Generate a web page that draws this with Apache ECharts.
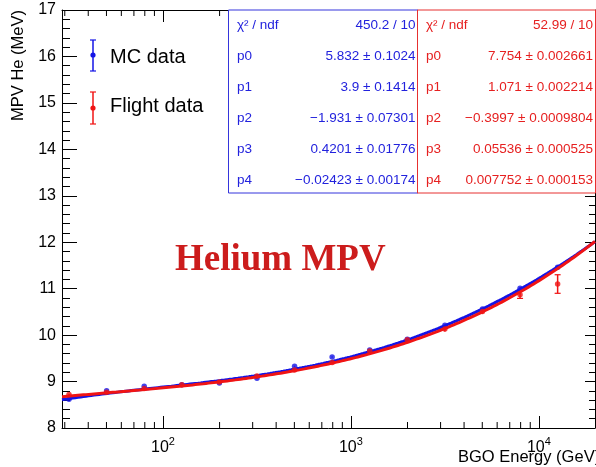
<!DOCTYPE html>
<html><head><meta charset="utf-8">
<script src="https://cdn.jsdelivr.net/npm/echarts@6/dist/echarts.min.js"></script>
<style>html,body{margin:0;padding:0;background:#fff}#c{width:596px;height:467px}</style>
</head><body><div id="c"></div>
<script>
// ---- data ----
const energies = [31.6, 50.1, 79.4, 125.9, 199.5, 316.2, 501.2, 794.3, 1258.9, 1995.3, 3162.3, 5011.9, 7943.3, 12589.3];
const mcValues = [8.62, 8.80, 8.90, 8.93, 8.97, 9.07, 9.33, 9.53, 9.68, 9.91, 10.21, 10.56, 11.01, 11.46];
const mcErrors = [0.01, 0.01, 0.01, 0.01, 0.01, 0.01, 0.01, 0.01, 0.01, 0.01, 0.01, 0.01, 0.02, 0.02];
const flightValues = [8.72, 8.77, 8.85, 8.93, 8.99, 9.12, 9.25, 9.41, 9.66, 9.90, 10.13, 10.51, 10.87, 11.10];
const flightErrors = [0.01, 0.01, 0.01, 0.01, 0.01, 0.01, 0.01, 0.01, 0.02, 0.02, 0.05, 0.05, 0.08, 0.20];
const mcFitParams = [5.832, 3.9, -1.931, 0.4201, -0.02423];
const flightFitParams = [7.754, 1.071, -0.3997, 0.05536, 0.007752];
const mcStats = [['χ² / ndf', '450.2 / 10'], ['p0', '5.832 ± 0.1024'], ['p1', '3.9 ± 0.1414'], ['p2', '−1.931 ± 0.07301'], ['p3', '0.4201 ± 0.01776'], ['p4', '−0.02423 ± 0.00174']];
const flightStats = [['χ² / ndf', '52.99 / 10'], ['p0', '7.754 ± 0.002661'], ['p1', '1.071 ± 0.002214'], ['p2', '−0.3997 ± 0.0009804'], ['p3', '0.05536 ± 0.000525'], ['p4', '0.007752 ± 0.000153']];
const xMinorTicks = [30, 40, 50, 60, 70, 80, 90, 200, 300, 400, 500, 600, 700, 800, 900, 2000, 3000, 4000, 5000, 6000, 7000, 8000, 9000];
const xRange = [29, 19900];
const yRange = [8, 17];
const legendLabels = ['MC data', 'Flight data'];
const titleText = 'Helium MPV';
const xTitle = 'BGO Energy (GeV)';
const yTitle = 'MPV He (MeV)';

// ---- style ----
const BLUE = '#1414e6', RED = '#f01414';
const BLUE_T = '#2222dd', RED_T = '#e62020';

// fit function: polynomial in log10(E), sampled along the axis
function fitCurve(p) {
  const out = [];
  const a = Math.log10(xRange[0]), b = Math.log10(xRange[1]);
  for (let i = 0; i <= 200; i++) {
    const l = a + (b - a) * i / 200;
    let y = 0;
    for (let k = 0; k < p.length; k++) y += p[k] * Math.pow(l, k);
    out.push([Math.pow(10, l), y]);
  }
  return out;
}

function errorSeries(vals, errs, color) {
  return {
    type: 'custom', xAxisIndex: 0, yAxisIndex: 0, z: 3,
    data: energies.map((e, i) => [e, vals[i] - errs[i], vals[i] + errs[i]]),
    renderItem(params, api) {
      const lo = api.coord([api.value(0), api.value(1)]);
      const hi = api.coord([api.value(0), api.value(2)]);
      const ch = [{ type: 'line', shape: { x1: lo[0], y1: lo[1], x2: hi[0], y2: hi[1] }, style: { stroke: color, lineWidth: 1.5 } }];
      if (lo[1] - hi[1] > 7) {
        ch.push({ type: 'line', shape: { x1: lo[0] - 3, y1: lo[1], x2: lo[0] + 3, y2: lo[1] }, style: { stroke: color, lineWidth: 1.2 } });
        ch.push({ type: 'line', shape: { x1: hi[0] - 3, y1: hi[1], x2: hi[0] + 3, y2: hi[1] }, style: { stroke: color, lineWidth: 1.2 } });
      }
      return { type: 'group', children: ch };
    }
  };
}

const minorTickSeries = {
  type: 'custom', xAxisIndex: 0, yAxisIndex: 0, z: 5, silent: true,
  data: xMinorTicks.map(v => [v]),
  renderItem(params, api) {
    const b = api.coord([api.value(0), yRange[0]]);
    const t = api.coord([api.value(0), yRange[1]]);
    return { type: 'group', children: [
      { type: 'line', shape: { x1: b[0], y1: b[1], x2: b[0], y2: b[1] - 6 }, style: { stroke: '#000', lineWidth: 1 } },
      { type: 'line', shape: { x1: t[0], y1: t[1], x2: t[0], y2: t[1] + 6 }, style: { stroke: '#000', lineWidth: 1 } }
    ] };
  }
};

function statsBox(rows, x, w, color, tcolor) {
  const els = [{ type: 'rect', shape: { x: x, y: 10, width: w, height: 183 }, style: { fill: '#fff', stroke: color, lineWidth: 1 }, z: 10 }];
  const ys = [25, 56, 87, 118, 149, 180];
  rows.forEach((r, i) => {
    els.push({ type: 'text', x: x + 8.5, y: ys[i], z: 11, style: { text: r[0], fill: tcolor, font: '13.5px "Liberation Sans", Arial, sans-serif', align: 'left', verticalAlign: 'middle' } });
    els.push({ type: 'text', x: x + w - 2.5, y: ys[i], z: 11, style: { text: r[1], fill: tcolor, font: '13.5px "Liberation Sans", Arial, sans-serif', align: 'right', verticalAlign: 'middle' } });
  });
  return els;
}

function legendItem(y, color, label, y1, y2, ty) {
  return [
    { type: 'line', shape: { x1: 93, y1: y1, x2: 93, y2: y2 }, style: { stroke: color, lineWidth: 1.5 }, z: 10 },
    { type: 'line', shape: { x1: 90, y1: y1, x2: 96, y2: y1 }, style: { stroke: color, lineWidth: 1.2 }, z: 10 },
    { type: 'line', shape: { x1: 90, y1: y2, x2: 96, y2: y2 }, style: { stroke: color, lineWidth: 1.2 }, z: 10 },
    { type: 'circle', shape: { cx: 93, cy: y, r: 2.6 }, style: { fill: color }, z: 10 },
    { type: 'text', x: 110, y: ty, z: 10, style: { text: label, fill: '#000', font: '20px "Liberation Sans", Arial, sans-serif', align: 'left', verticalAlign: 'middle' } }
  ];
}

const axisFont = '"Liberation Sans", Arial, sans-serif';
const chart = echarts.init(document.getElementById('c'), null, { renderer: 'canvas' });
chart.setOption({
  animation: false,
  backgroundColor: '#fff',
  grid: { left: 62, right: 1, top: 10, bottom: 39, containLabel: false },
  xAxis: [
    { type: 'log', logBase: 10, min: xRange[0], max: xRange[1], position: 'bottom',
      axisLine: { lineStyle: { color: '#000', width: 1 } },
      axisTick: { inside: true, length: 12, lineStyle: { color: '#000' } },
      splitLine: { show: false },
      axisLabel: { showMinLabel: false, showMaxLabel: false, margin: 8, color: '#000',
        formatter: v => { const l = Math.log10(v); return Math.abs(l - Math.round(l)) < 1e-6 ? '{b|10}{s|' + Math.round(l) + '}' : ''; },
        rich: { b: { fontSize: 16, fontFamily: axisFont, color: '#000', verticalAlign: 'bottom' }, s: { fontSize: 11, fontFamily: axisFont, color: '#000', padding: [0, 0, 9, 0], verticalAlign: 'bottom' } } } },
    { type: 'log', logBase: 10, min: xRange[0], max: xRange[1], position: 'top',
      axisLine: { lineStyle: { color: '#000', width: 1 } },
      axisTick: { inside: true, length: 12, lineStyle: { color: '#000' } },
      splitLine: { show: false }, axisLabel: { show: false } }
  ],
  yAxis: [
    { type: 'value', min: yRange[0], max: yRange[1], interval: 1, position: 'left',
      axisLine: { show: true, lineStyle: { color: '#000', width: 1 } },
      axisTick: { show: true, inside: true, length: 15, lineStyle: { color: '#000' } },
      minorTick: { show: true, splitNumber: 5, length: 8, lineStyle: { color: '#000' } },
      splitLine: { show: false },
      axisLabel: { color: '#000', fontSize: 16, fontFamily: axisFont, margin: 6 } },
    { type: 'value', min: yRange[0], max: yRange[1], interval: 1, position: 'right',
      axisLine: { show: true, lineStyle: { color: '#000', width: 1 } },
      axisTick: { show: true, inside: true, length: 10, lineStyle: { color: '#000' } },
      minorTick: { show: true, splitNumber: 5, length: 6, lineStyle: { color: '#000' } },
      splitLine: { show: false }, axisLabel: { show: false } }
  ],
  series: [
    minorTickSeries,
    errorSeries(mcValues, mcErrors, BLUE),
    { type: 'scatter', xAxisIndex: 0, yAxisIndex: 0, z: 3, symbol: 'circle', symbolSize: 5.5, itemStyle: { color: BLUE }, data: energies.map((e, i) => [e, mcValues[i]]) },
    { type: 'line', xAxisIndex: 0, yAxisIndex: 0, z: 4, showSymbol: false, symbol: 'none', lineStyle: { color: BLUE, width: 3 }, data: fitCurve(mcFitParams) },
    errorSeries(flightValues, flightErrors, RED),
    { type: 'scatter', xAxisIndex: 0, yAxisIndex: 0, z: 5, symbol: 'circle', symbolSize: 5.5, itemStyle: { color: RED }, data: energies.map((e, i) => [e, flightValues[i]]) },
    { type: 'line', xAxisIndex: 0, yAxisIndex: 0, z: 5, showSymbol: false, symbol: 'none', lineStyle: { color: RED, width: 3 }, data: fitCurve(flightFitParams) }
  ],
  graphic: [].concat(
    statsBox(mcStats, 228.5, 189.5, '#3535dc', BLUE_T),
    statsBox(flightStats, 417.5, 178, '#e63030', RED_T),
    legendItem(55, BLUE, legendLabels[0], 40, 71, 57),
    legendItem(108, RED, legendLabels[1], 92, 124, 106),
    [
      { type: 'text', x: 175, y: 260, z: 10, style: { text: titleText, fill: '#cc1c1c', font: 'bold 37px "Liberation Serif", "Times New Roman", serif', align: 'left', verticalAlign: 'middle' } },
      { type: 'text', x: 458, y: 457, z: 10, style: { text: xTitle, fill: '#000', font: '16.5px "Liberation Sans", Arial, sans-serif', align: 'left', verticalAlign: 'middle' } },
      { type: 'text', x: 18, y: 10, rotation: Math.PI / 2, z: 10, style: { text: yTitle, fill: '#000', font: '16.5px "Liberation Sans", Arial, sans-serif', align: 'right', verticalAlign: 'middle' } }
    ]
  )
});
</script></body></html>
